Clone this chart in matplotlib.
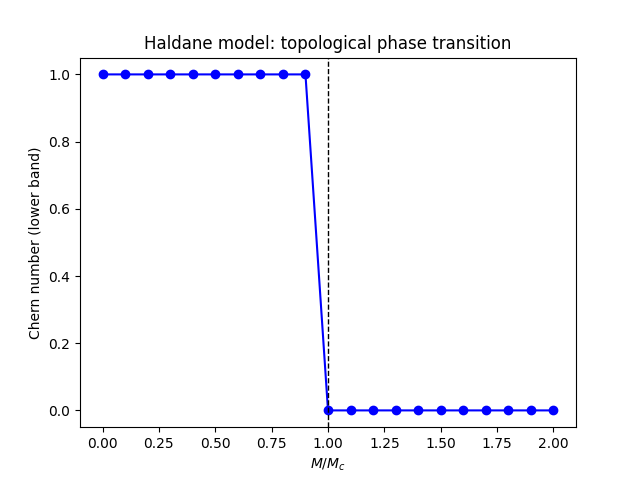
import numpy as np
import matplotlib
matplotlib.use("Agg")
from matplotlib import pyplot as plt

# M/Mc ratio and Chern number of the lower band
m_ratio = [0.0, 0.1, 0.2, 0.3, 0.4, 0.5, 0.6, 0.7, 0.8, 0.9, 1.0,
           1.1, 1.2, 1.3, 1.4, 1.5, 1.6, 1.7, 1.8, 1.9, 2.0]
chern = [1, 1, 1, 1, 1, 1, 1, 1, 1, 1, 0,
         0, 0, 0, 0, 0, 0, 0, 0, 0, 0]
critical = 1.0

fig, ax = plt.subplots(figsize=(6.4, 4.8), dpi=100)
ax.plot(m_ratio, chern, 'bo-')
ax.axvline(critical, color='k', linestyle='--', linewidth=1)
ax.set_xlabel(r'$M/M_c$')
ax.set_ylabel('Chern number (lower band)')
ax.set_title('Haldane model: topological phase transition')
fig.savefig('out.png')
